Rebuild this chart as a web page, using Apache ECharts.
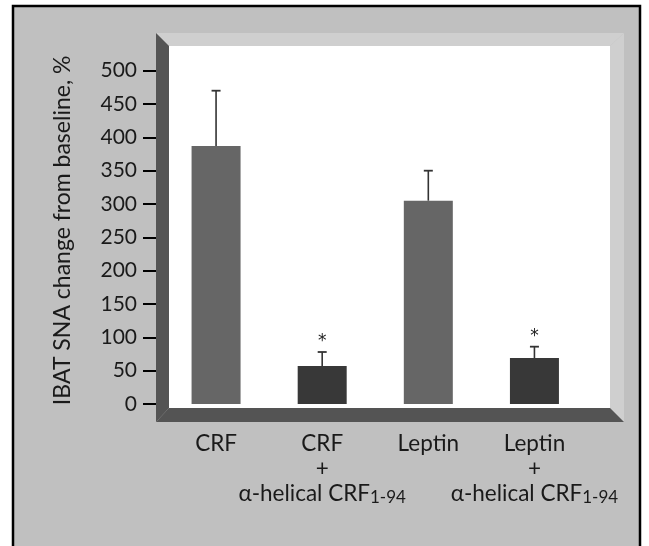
<!DOCTYPE html>
<html>
<head>
<meta charset="utf-8">
<script src="https://cdn.jsdelivr.net/npm/echarts@6/dist/echarts.min.js"></script>
<style>
html,body{margin:0;padding:0;background:#ffffff;}
#chart{width:649px;height:546px;}
</style>
</head>
<body>
<div id="chart"></div>
<script>
// ---- data ----
const categories = ['CRF', 'CRF + α-helical CRF1-94', 'Leptin', 'Leptin + α-helical CRF1-94'];
const meanValues = [387, 57, 305, 69];
const errorUpper = [470, 78, 350, 86];
const significance = ['', '*', '', '*'];
const barColors = ['#666666', '#383838', '#666666', '#383838'];
const yTicks = {min: 0, max: 500, interval: 50};
const yTitle = 'IBAT SNA change from baseline, %';

const FONT = 'Lato';

const chart = echarts.init(document.getElementById('chart'), null, {renderer: 'canvas'});

function catLabel(v) {
  const parts = v.split(' + ');
  if (parts.length === 1) return '{a|' + parts[0] + '}';
  const m = parts[1].match(/^(.*?)(\d+-\d+)$/);
  return '{a|' + parts[0] + '}\n{a|+}\n{a|' + m[1] + '}{s|' + m[2] + '}';
}

// frame geometry (decorative bevel)
const OX1 = 156, OY1 = 33, OX2 = 624, OY2 = 422;
const IX1 = 169, IY1 = 46, IX2 = 610, IY2 = 408;
const LIGHT = '#cfcfcf', DARK = '#545454';

const option = {
  backgroundColor: '#ffffff',
  animation: false,
  graphic: [
    {type: 'rect', shape: {x: 13, y: 6, width: 627, height: 560}, style: {fill: '#c0c0c0', stroke: '#000', lineWidth: 2.5}, z: -20},
    {type: 'polygon', shape: {points: [[OX1, OY1], [OX2, OY1], [IX2, IY1], [IX1, IY1]]}, style: {fill: LIGHT}, z: -10},
    {type: 'polygon', shape: {points: [[OX2, OY1], [OX2, OY2], [IX2, IY2], [IX2, IY1]]}, style: {fill: LIGHT}, z: -10},
    {type: 'polygon', shape: {points: [[OX1, OY1], [IX1, IY1], [IX1, IY2], [OX1, OY2]]}, style: {fill: DARK}, z: -10},
    {type: 'polygon', shape: {points: [[OX1, OY2], [IX1, IY2], [IX2, IY2], [OX2, OY2]]}, style: {fill: DARK}, z: -10},
    {type: 'rect', shape: {x: IX1, y: IY1, width: IX2 - IX1, height: IY2 - IY1}, style: {fill: '#ffffff'}, z: -10}
  ],
  grid: {left: 163, right: 61.5, top: 70.7, bottom: 142, containLabel: false},
  xAxis: {
    type: 'category',
    data: categories,
    axisLine: {show: false},
    axisTick: {show: false},
    axisLabel: {
      interval: 0,
      margin: 27,
      formatter: catLabel,
      rich: {
        a: {fontFamily: FONT, fontSize: 22.5, lineHeight: 25, color: '#1a1a1a'},
        s: {fontFamily: FONT, fontSize: 17, lineHeight: 19, color: '#1a1a1a', verticalAlign: 'bottom'}
      }
    }
  },
  yAxis: {
    type: 'value',
    min: yTicks.min, max: yTicks.max, interval: yTicks.interval,
    offset: 7,
    axisLine: {show: false},
    splitLine: {show: false},
    axisTick: {show: true, length: 13, lineStyle: {color: '#000', width: 2}},
    axisLabel: {margin: 19, fontFamily: FONT, fontSize: 21, color: '#1a1a1a'},
    name: yTitle,
    nameLocation: 'middle',
    nameRotate: 90,
    nameGap: 82,
    nameMoveOverlap: false,
    nameTextStyle: {fontFamily: FONT, fontSize: 23, color: '#1a1a1a', padding: [0, 0, 0, 14]}
  },
  series: [
    {
      type: 'bar',
      data: meanValues.map((v, i) => ({value: v, itemStyle: {color: barColors[i]}})),
      barWidth: 49,
      z: 2
    },
    {
      type: 'custom',
      z: 3,
      data: categories.map((c, i) => [i, meanValues[i], errorUpper[i]]),
      renderItem: function (params, api) {
        const x = api.coord([api.value(0), 0])[0];
        const yTop = api.coord([api.value(0), api.value(2)])[1];
        const yMean = api.coord([api.value(0), api.value(1)])[1];
        const sig = significance[params.dataIndex];
        const children = [
          {type: 'line', shape: {x1: x, y1: yMean, x2: x, y2: yTop}, style: {stroke: '#333', lineWidth: 1.6}},
          {type: 'line', shape: {x1: x - 4.5, y1: yTop, x2: x + 4.5, y2: yTop}, style: {stroke: '#333', lineWidth: 1.8}}
        ];
        if (sig) {
          children.push({type: 'text', style: {text: sig, x: x, y: yTop - 10, align: 'center', verticalAlign: 'middle', fontFamily: 'DejaVu Sans', fontSize: 17, fill: '#222'}});
        }
        return {type: 'group', children: children};
      }
    }
  ]
};
chart.setOption(option);
</script>
</body>
</html>
